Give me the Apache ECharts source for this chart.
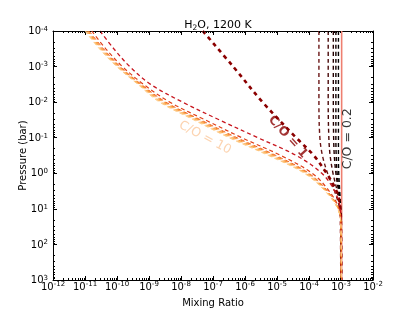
<!DOCTYPE html>
<html><head><meta charset="utf-8">
<script src="https://cdn.jsdelivr.net/npm/echarts@6/dist/echarts.min.js"></script>
<style>html,body{margin:0;padding:0;background:#fff}#c{width:415px;height:312px}</style>
</head><body><div id="c"></div>
<script>
// ---- data (log10 values) ----
// carbon-rich curves (C/O > 1): pressure grid, log10(bar)
const richLogP = [-4, -3.5, -3, -2.5, -2, -1.5, -1, -0.5, 0, 0.5, 1, 1.5, 3];
const co1_5 = [-10.53, -10.10, -9.60, -8.95, -7.95, -6.80, -5.60, -4.40, -3.60, -3.20, -3.02, -3.00, -2.99];
const co2   = [-10.79, -10.35, -9.83, -9.17, -8.35, -7.24, -6.10, -4.88, -3.90, -3.37, -3.06, -3.00, -2.99];
const co3   = [-10.87, -10.42, -9.90, -9.24, -8.47, -7.38, -6.25, -5.03, -4.00, -3.42, -3.08, -3.00, -2.99];
const co4   = [-10.90, -10.45, -9.92, -9.26, -8.51, -7.42, -6.30, -5.08, -4.03, -3.43, -3.08, -3.00, -2.99];
const co5   = [-10.92, -10.48, -9.94, -9.29, -8.55, -7.47, -6.36, -5.13, -4.06, -3.45, -3.09, -3.00, -2.99];
const co6   = [-10.95, -10.50, -9.97, -9.31, -8.60, -7.52, -6.41, -5.18, -4.10, -3.47, -3.09, -3.00, -2.99];
const co8   = [-10.98, -10.53, -9.99, -9.33, -8.63, -7.56, -6.46, -5.23, -4.12, -3.49, -3.10, -3.00, -2.99];
const co10  = [-11.00, -10.55, -10.01, -9.35, -8.67, -7.60, -6.50, -5.27, -4.15, -3.50, -3.10, -3.00, -2.99];
// C/O = 1
const co1LogP = [-4, -3, -2, -1, -0.5, 0, 0.3, 0.6, 1, 1.5, 3];
const co1     = [-7.32, -6.37, -5.45, -4.40, -3.85, -3.45, -3.25, -3.10, -3.02, -3.00, -2.99];
// oxygen-rich curves (C/O < 1)
const poorLogP = [-4, -2, -1, -0.5, 0, 0.5, 1, 1.5, 3];
const co0_8 = [-3.69, -3.69, -3.66, -3.58, -3.42, -3.20, -3.04, -3.00, -2.99];
const co0_6 = [-3.40, -3.40, -3.38, -3.34, -3.25, -3.12, -3.03, -3.00, -2.99];
const co0_4 = [-3.24, -3.24, -3.23, -3.21, -3.16, -3.08, -3.02, -3.00, -2.99];
const co0_3 = [-3.16, -3.16, -3.16, -3.15, -3.12, -3.06, -3.02, -3.00, -2.99];
const co0_2 = [-3.08, -3.08, -3.08, -3.08, -3.07, -3.04, -3.01, -3.00, -2.99];
// solid reference line
const refLogP = [-4, 3];
const refX    = [-2.98, -2.98];
// annotation labels
const labelText = ['C/O = 1', 'C/O = 10', 'C/O = 0.2'];
const labelLogX = [-4.66, -7.25, -2.80];
const labelLogP = [-1.02, -1.00, -0.97];
// axes
const xMinExp = -12, xMaxExp = -2, pMinExp = -4, pMaxExp = 3;
const xDecades = [-12, -11, -10, -9, -8, -7, -6, -5, -4, -3];
const pDecades = [-4, -3, -2, -1, 0, 1, 2];
const minorMantissas = [2, 3, 4, 5, 6, 7, 8, 9];

// ---- build ----
const toPts = (xs, ps) => xs.map((e, i) => [Math.pow(10, e), Math.pow(10, ps[i])]);
function line(name, xs, ps, color, width, dash, solid) {
  return {
    type: 'line', name, data: toPts(xs, ps), showSymbol: false, symbol: 'none',
    smooth: 0.35, silent: true, animation: false,
    lineStyle: { color, width, type: solid ? 'solid' : dash, cap: 'butt' }
  };
}
const D = [4, 3];
const series = [
  line('ref', refX, refLogP, '#ee7f70', 1.6, D, true),
  line('0.8', co0_8, poorLogP, '#6a1515', 1.4, D),
  line('0.6', co0_6, poorLogP, '#4a0a0a', 1.4, D),
  line('0.4', co0_4, poorLogP, '#220000', 1.4, D),
  line('0.3', co0_3, poorLogP, '#100000', 1.4, D),
  line('0.2', co0_2, poorLogP, '#000000', 1.4, D),
  line('1', co1, co1LogP, '#8b0000', 2.6, [4, 4]),
  line('1.5', co1_5, richLogP, '#c8161e', 1.3, D),
  line('2', co2, richLogP, '#e0401a', 1.2, D),
  line('3', co3, richLogP, '#f06420', 1.0, D),
  line('4', co4, richLogP, '#f5802a', 1.0, D),
  line('5', co5, richLogP, '#f89838', 1.0, D),
  line('6', co6, richLogP, '#fbaa50', 1.0, D),
  line('8', co8, richLogP, '#fdbc6c', 1.0, D),
  line('10', co10, richLogP, '#fecb88', 1.0, D)
];
const labelColors = ['#8b0000', '#fbc89c', '#000000'];
const labelRot = [-48, -28, 90];
const labelWeight = ['bold', 'normal', 'normal'];
labelText.forEach((t, i) => {
  series.push({
    type: 'scatter', silent: true, animation: false, symbolSize: 1,
    itemStyle: { color: 'transparent' }, z: 5,
    data: [[Math.pow(10, labelLogX[i]), Math.pow(10, labelLogP[i])]],
    label: { show: true, position: 'inside', formatter: t, rotate: labelRot[i],
      color: labelColors[i], fontSize: 12.5, fontWeight: labelWeight[i], fontFamily: 'DejaVu Sans' }
  });
});
// minor ticks (matplotlib style 2..9 x 10^n)
const xMinor = [], pMinor = [];
xDecades.forEach(d => minorMantissas.forEach(m => xMinor.push([m * Math.pow(10, d), 1])));
pDecades.forEach(d => minorMantissas.forEach(m => pMinor.push([1e-6, m * Math.pow(10, d)])));
const XL = Math.pow(10, xMinExp), XR = Math.pow(10, xMaxExp), PT = Math.pow(10, pMinExp), PB = Math.pow(10, pMaxExp);
const tickStyle = { stroke: '#000', lineWidth: 1 };
series.push({
  type: 'custom', silent: true, animation: false, z: 10, data: xMinor, clip: false,
  renderItem: (p, api) => {
    const v = api.value(0);
    const b = api.coord([v, PB]), t = api.coord([v, PT]);
    const x = Math.round(b[0]) + 0.5;
    return { type: 'group', children: [
      { type: 'line', shape: { x1: x, y1: b[1], x2: x, y2: b[1] - 2 }, style: tickStyle },
      { type: 'line', shape: { x1: x, y1: t[1], x2: x, y2: t[1] + 2 }, style: tickStyle }
    ]};
  }
});
series.push({
  type: 'custom', silent: true, animation: false, z: 10, data: pMinor, clip: false,
  renderItem: (p, api) => {
    const v = api.value(1);
    const l = api.coord([XL, v]), r = api.coord([XR, v]);
    const y = Math.round(l[1]) + 0.5;
    return { type: 'group', children: [
      { type: 'line', shape: { x1: l[0], y1: y, x2: l[0] + 2, y2: y }, style: tickStyle },
      { type: 'line', shape: { x1: r[0], y1: y, x2: r[0] - 2, y2: y }, style: tickStyle }
    ]};
  }
});

const fmt = v => {
  const e = Math.round(Math.log10(v));
  return '{b|10}{s|' + (e < 0 ? '-' : '') + Math.abs(e) + '}';
};
const rich = {
  b: { fontSize: 10, fontFamily: 'DejaVu Sans', color: '#000', lineHeight: 11, verticalAlign: 'bottom' },
  s: { fontSize: 7, fontFamily: 'DejaVu Sans', color: '#000', verticalAlign: 'top' }
};
const axisCommon = (pos, show) => ({
  axisLine: { show: true, onZero: false, lineStyle: { color: '#000', width: 1 } },
  axisTick: { show: true, inside: true, length: 4, lineStyle: { color: '#000' } },
  splitLine: { show: false },
  axisLabel: show ? { formatter: fmt, rich, margin: pos === 'x' ? 1 : 5 } : { show: false }
});
const xBase = { type: 'log', logBase: 10, min: XL, max: XR, interval: 1 };
const yBase = { type: 'log', logBase: 10, min: PT, max: PB, inverse: true, interval: 1 };

const chart = echarts.init(document.getElementById('c'), null, { renderer: 'canvas' });
chart.setOption({
  animation: false,
  backgroundColor: '#fff',
  title: {
    text: '{n|H}{sub|2}{n|O, 1200 K}', left: 213, textAlign: 'center', top: 13,
    textStyle: { fontWeight: 'normal', rich: {
      n: { fontSize: 11, fontFamily: 'DejaVu Sans', fontWeight: 'normal', color: '#000', lineHeight: 14 },
      sub: { fontSize: 7.5, fontFamily: 'DejaVu Sans', fontWeight: 'normal', color: '#000', verticalAlign: 'bottom', lineHeight: 10 }
    } }
  },
  grid: { left: 53, right: 42, top: 31, bottom: 32, containLabel: false, outerBoundsMode: 'none' },
  xAxis: [
    Object.assign({}, xBase, axisCommon('x', true), {
      position: 'bottom', name: 'Mixing Ratio', nameLocation: 'middle', nameGap: 18, nameMoveOverlap: false,
      nameTextStyle: { fontSize: 10, fontFamily: 'DejaVu Sans', color: '#000' } }),
    Object.assign({}, xBase, axisCommon('x', false), { position: 'top' })
  ],
  yAxis: [
    Object.assign({}, yBase, axisCommon('y', true), {
      position: 'left', name: 'Pressure (bar)', nameLocation: 'middle', nameGap: 25, nameMoveOverlap: false,
      nameTextStyle: { fontSize: 10, fontFamily: 'DejaVu Sans', color: '#000' } }),
    Object.assign({}, yBase, axisCommon('y', false), { position: 'right' })
  ],
  series
});
</script></body></html>
